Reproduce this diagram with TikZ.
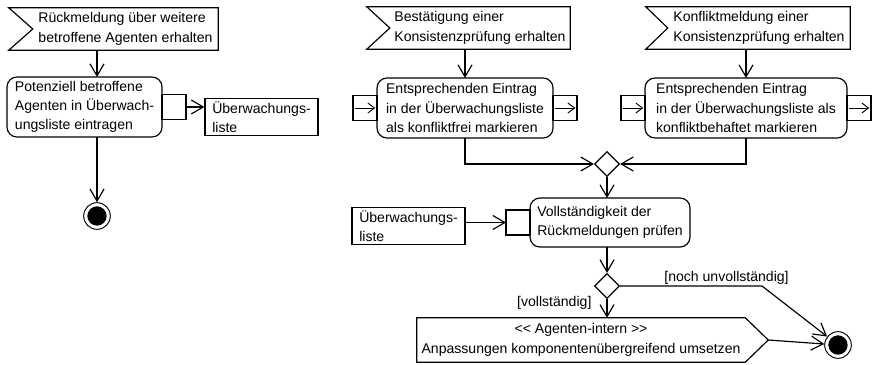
\documentclass[tikz,border=0pt]{standalone}
\usepackage{fontspec}
\setmainfont{Liberation Sans}
\usetikzlibrary{positioning,shapes.geometric,arrows.meta,calc}

\begin{document}
\begin{tikzpicture}[
        x=0.03cm, y=-0.03cm,
        every node/.style={font=\fontsize{12pt}{16.5pt}\selectfont},
        actionnode/.style={rectangle, rounded corners=0.3cm, draw, line width=1pt, align=left, minimum height=1.8cm, inner sep=0pt, outer sep=0pt},
        eventnode/.style={rectangle, align=left, minimum height=1.26cm, inner sep=0pt},
        signode/.style={rectangle, align=center, minimum width=9.84cm, minimum height=1.32cm, inner sep=0pt},
        objnode/.style={rectangle, draw, line width=1pt, align=left, minimum width=3.39cm, minimum height=1.1cm, inner sep=0pt},
        pinnode/.style={rectangle, draw, line width=1pt, minimum width=0.72cm, minimum height=0.75cm, inner sep=0pt, outer sep=0pt},
        decisionnode/.style={diamond, draw, line width=1pt, minimum width=0.75cm, minimum height=0.75cm, inner sep=0pt},
        finalnode/.style={circle, draw, line width=0.8pt, minimum size=0.8cm, inner sep=0pt,
            path picture={\fill (path picture bounding box.center) circle (0.29cm);}},
        guard/.style={inner sep=0pt},
        flow/.style={line width=1pt, -{Straight Barb[length=0.36cm, width=0.42cm]}},
        pinflow/.style={line width=0.8pt, -{Straight Barb[length=0.2cm, width=0.3cm]}, shorten <=1.5pt, shorten >=1.5pt},
        ]

        \useasboundingbox (0,0) rectangle (875,364);

        % Events
        \node[eventnode, minimum width=5.55cm] (ev1) at (125.5,29) {R\"uckmeldung \"uber weitere\\betroffene Agenten erhalten};
        \node[eventnode, minimum width=5.4cm] (ev2) at (480,28) {Best\"atigung einer\\Konsistenzpr\"ufung erhalten};
        \node[eventnode, minimum width=5.46cm] (ev3) at (759,28) {Konfliktmeldung einer\\Konsistenzpr\"ufung erhalten};
        \draw[line width=1pt] ([xshift=-0.72cm]ev1.north west) -- (ev1.north east) -- (ev1.south east) -- ([xshift=-0.72cm]ev1.south west) -- (ev1.west) -- cycle;
        \draw[line width=1pt] ([xshift=-0.69cm]ev2.north west) -- (ev2.north east) -- (ev2.south east) -- ([xshift=-0.69cm]ev2.south west) -- (ev2.west) -- cycle;
        \draw[line width=1pt] ([xshift=-0.66cm]ev3.north west) -- (ev3.north east) -- (ev3.south east) -- ([xshift=-0.66cm]ev3.south west) -- (ev3.west) -- cycle;

        % Actions
        \node[actionnode, minimum width=4.65cm] (act1) at (84.5,107) {Potenziell betroffene\\Agenten in \"Uberwach-\\ungsliste eintragen};
        \node[actionnode, minimum width=5.28cm] (act2) at (465,108) {Entsprechenden Eintrag\\in der \"Uberwachungsliste\\als konfliktfrei markieren};
        \node[actionnode, minimum width=6.06cm] (act3) at (746,108) {Entsprechenden Eintrag\\in der \"Uberwachungsliste als\\konfliktbehaftet markieren};
        \node[actionnode, minimum width=4.8cm, minimum height=1.47cm] (act4) at (610,222.5) {Vollst\"andigkeit der\\R\"uckmeldungen pr\"ufen};

        % Pins
        \node[pinnode, right=0pt of act1] (act1out) {};
        \node[pinnode, left=0pt of act2] (act2in) {};
        \node[pinnode, right=0pt of act2] (act2out) {};
        \node[pinnode, left=0pt of act3] (act3in) {};
        \node[pinnode, right=0pt of act3] (act3out) {};
        \node[pinnode, left=0pt of act4] (act4in) {};
        \draw[pinflow] (act2in.west) -- (act2in.east);
        \draw[pinflow] (act2out.west) -- (act2out.east);
        \draw[pinflow] (act3in.west) -- (act3in.east);
        \draw[pinflow] (act3out.west) -- (act3out.east);

        % Objects
        \node[objnode] (obj1) at (261.5,117) {\"Uberwachungs-\\liste};
        \node[objnode] (obj2) at (408.5,226) {\"Uberwachungs-\\liste};

        % Decisions, signal, final nodes
        \node[decisionnode] (d1) at (607,164) {};
        \node[decisionnode] (d2) at (607,286) {};
        \node[signode] (sig) at (581,340) {{<}{<} Agenten-intern {>}{>}\\Anpassungen komponenten\"ubergreifend umsetzen};
        \draw[line width=1pt] (sig.north west) -- (sig.north east) -- ($(sig.east)+(23,0)$) coordinate (sigtip) -- (sig.south east) -- (sig.south west) -- cycle;
        \node[finalnode] (fin1) at (97,216) {};
        \node[finalnode] (fin2) at (838,345) {};
        \coordinate (bend) at (762,286);

        % Left flow
        \draw[flow] (ev1.south -| fin1) -- (act1.north -| fin1);
        \draw[flow] (act1.south -| fin1) -- (fin1);
        \draw[flow] (act1out.east) -- (act1out.east -| obj1.west);

        % Right flows
        \draw[flow] (ev2.south -| act2) -- (act2);
        \draw[flow] (ev3.south -| act3) -- (act3);
        \draw[flow] (act2) |- (d1);
        \draw[flow] (act3) |- (d1);
        \draw[flow] (d1) -- (d1 |- act4.north);
        \draw[flow] (obj2.east |- act4in) -- (act4in);
        \draw[flow] (act4.south -| d2) -- (d2);
        \draw[flow] (d2) -- (d2 |- sig.north) node[guard, pos=0.2, left=0.45cm] (gDone) {[vollst\"andig]};
        \draw[flow] (d2) -- node[guard, pos=0.75, above=1pt] (gOpen) {[noch unvollst\"andig]} (bend) -- (fin2);
        \draw[flow] (sigtip) -- (fin2);

    \end{tikzpicture}
\end{document}
